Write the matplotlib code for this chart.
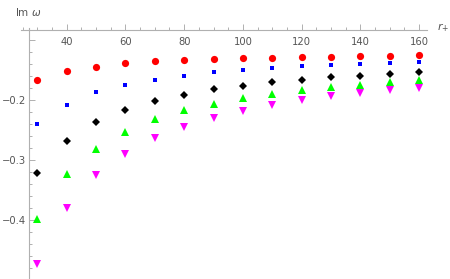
import numpy as np
import matplotlib.pyplot as plt

# horizon radius r_+
r_plus = [30, 40, 50, 60, 70, 80, 90, 100, 110, 120, 130, 140, 150, 160]

# Im(omega) for each family of modes
im_red = [-0.166, -0.152, -0.1445, -0.139, -0.1355, -0.133, -0.1317,
          -0.1305, -0.1295, -0.128, -0.1278, -0.1267, -0.126, -0.1255]
im_blue = [-0.2405, -0.208, -0.187, -0.175, -0.166, -0.1595, -0.154,
           -0.150, -0.1467, -0.144, -0.142, -0.140, -0.138, -0.137]
im_black = [-0.322, -0.268, -0.237, -0.2167, -0.2017, -0.191, -0.182,
            -0.176, -0.1705, -0.1667, -0.162, -0.160, -0.1567, -0.1533]
im_green = [-0.398, -0.324, -0.281, -0.253, -0.232, -0.217, -0.2067,
            -0.1967, -0.190, -0.1833, -0.1783, -0.175, -0.170, -0.167]
im_magenta = [-0.473, -0.3805, -0.3255, -0.2895, -0.263, -0.2445, -0.230,
              -0.2183, -0.2083, -0.200, -0.1938, -0.1888, -0.1833, -0.180]

axis_grey = '#b0b0b0'
text_grey = '#555555'

fig = plt.figure(figsize=(4.5, 2.79), dpi=100)
ax = fig.add_axes([0, 0, 1, 1])
ax.set_xlim(17.3, 170.5)
ax.set_ylim(-0.4983, -0.0333)

ax.plot(r_plus, im_red, 'o', color='red', markersize=5.2, markeredgewidth=0)
ax.plot(r_plus, im_blue, 's', color='blue', markersize=3.5, markeredgewidth=0)
ax.plot(r_plus, im_black, 'D', color='black', markersize=4.0, markeredgewidth=0)
ax.plot(r_plus, im_green, '^', color='#00ff00', markersize=5.2, markeredgewidth=0)
ax.plot(r_plus, im_magenta, 'v', color='magenta', markersize=5.2, markeredgewidth=0)

# Mathematica style axes crossing inside the plot
ax.spines['top'].set_visible(False)
ax.spines['right'].set_visible(False)
ax.spines['bottom'].set_position(('data', -0.0833))
ax.spines['left'].set_position(('data', 27.1))
ax.spines['bottom'].set_bounds(24.3, 162.6)
ax.spines['left'].set_bounds(-0.4983, -0.080)
for s in ['bottom', 'left']:
    ax.spines[s].set_color(axis_grey)
    ax.spines[s].set_linewidth(0.8)

ax.set_xticks([40, 60, 80, 100, 120, 140, 160])
ax.set_xticks(np.arange(25, 165, 5), minor=True)
ax.set_yticks([-0.4, -0.3, -0.2, -0.1])
ax.set_yticklabels(['\u22120.4', '\u22120.3', '\u22120.2', ''])
ax.set_yticks(np.arange(-0.48, -0.085, 0.02), minor=True)
ax.tick_params(which='both', direction='in', color=axis_grey, width=0.7,
               labelcolor=text_grey, labelsize=7.2)
ax.tick_params(which='major', length=4)
ax.tick_params(which='minor', length=2.3)
ax.tick_params(axis='x', which='major', pad=5)
ax.tick_params(axis='y', which='major', pad=2)

ax.text(15, 279 - 12, r'Im $\omega$', transform=None, fontsize=7.5,
        color=text_grey, va='center', ha='left')
ax.text(437, 279 - 28, r'$r_{+}$', transform=None, fontsize=8,
        color=text_grey, va='center', ha='left')

fig.savefig('out.png', dpi=100)
